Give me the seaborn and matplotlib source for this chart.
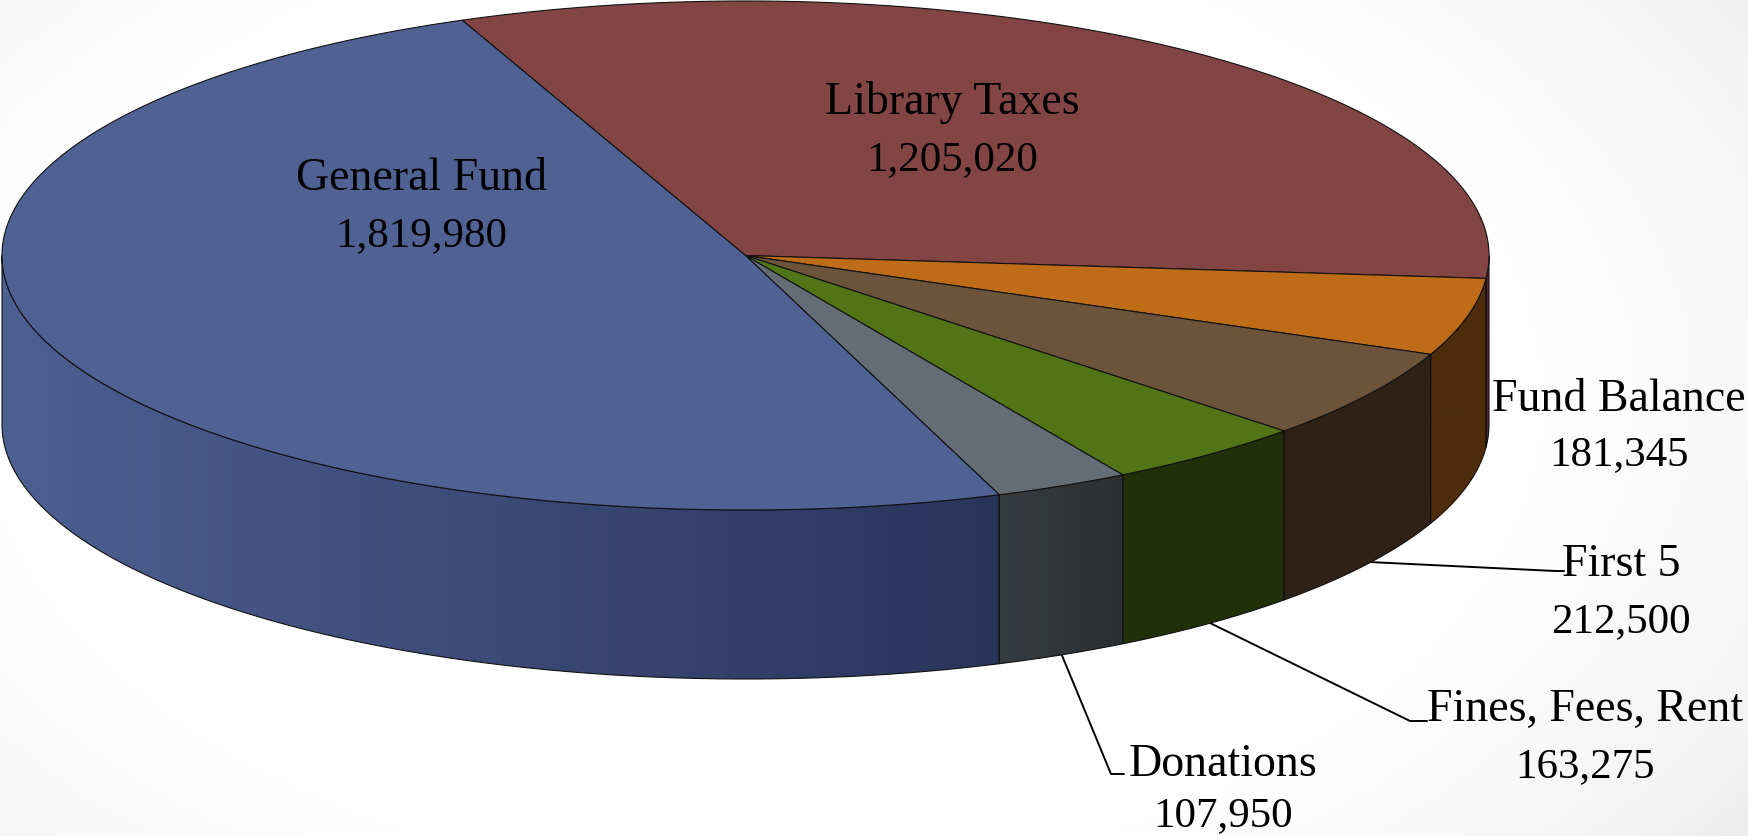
import numpy as np
import matplotlib
matplotlib.use("Agg")
import matplotlib.pyplot as plt
from matplotlib.path import Path
from matplotlib.patches import PathPatch
import seaborn as sns

categories = ["Library Taxes", "Fund Balance", "First 5", "Fines, Fees, Rent", "Donations", "General Fund"]
values = [1205020, 181345, 212500, 163275, 107950, 1819980]
top_colors = ["#834444", "#BE6C18", "#6C533C", "#517417", "#626D75", "#506294"]
side_left = ["#4F2A2A", "#4F2D0A", "#2F2116", "#213008", "#373C40", "#4D6092"]
side_right = ["#4F2A2A", "#4F2D0A", "#2F2116", "#213008", "#2B2F32", "#29345A"]

W, H = 1748, 837
CX, CY, RX, RY = 745.5, 256.5, 743.5, 254.5
DEPTH = 169
START = 112.4

sns.set_theme(style="white")
plt.rcParams["font.family"] = ["Liberation Serif", "DejaVu Serif"]

fig = plt.figure(figsize=(W / 100, H / 100), dpi=100)
ax = fig.add_axes([0, 0, 1, 1])
ax.set_xlim(0, W)
ax.set_ylim(H, 0)
ax.axis("off")

# soft radial backdrop
xx, yy = np.meshgrid(np.linspace(0, W, 300), np.linspace(0, H, 150))
r = np.hypot((xx - 760) / 1000, (yy - 400) / 620)
bg_cmap = sns.blend_palette(["#FFFFFF", "#FFFFFF", "#F4F4F4", "#DADADA"], as_cmap=True)
ax.imshow(r, extent=[0, W, H, 0], cmap=bg_cmap, vmin=0.45, vmax=1.45, aspect="auto", zorder=0)


def rim(t):
    t = np.radians(t)
    return CX + RX * np.cos(t), CY - RY * np.sin(t)


total = sum(values)
sweeps = [v / total * 360 for v in values]
edges = START - np.concatenate([[0], np.cumsum(sweeps)])

# side wall, only the front half of the disc shows
for i in range(len(values)):
    a0 = min(edges[i], 0.0)
    a1 = max(edges[i + 1], -180.0)
    if a0 <= a1:
        continue
    ts = np.linspace(a0, a1, 200)
    x, y = rim(ts)
    verts = np.concatenate([np.c_[x, y], np.c_[x[::-1], y[::-1] + DEPTH], [[x[0], y[0]]]])
    patch = PathPatch(Path(verts), facecolor="none", edgecolor="#111111", lw=0.8, zorder=2)
    ax.add_patch(patch)
    cmap = sns.blend_palette([side_left[i], side_right[i]], as_cmap=True)
    grad = np.linspace(0, 1, 256).reshape(1, -1)
    img = ax.imshow(grad, extent=[x.min(), x.max(), y.max() + DEPTH, y.min()],
                    cmap=cmap, vmin=0, vmax=1, aspect="auto", zorder=1.5)
    img.set_clip_path(patch)

# top face
for i, color in enumerate(top_colors):
    x, y = rim(np.linspace(edges[i], edges[i + 1], 300))
    verts = np.concatenate([[[CX, CY]], np.c_[x, y], [[CX, CY]]])
    ax.add_patch(PathPatch(Path(verts), facecolor=color, edgecolor="#111111", lw=0.8, zorder=3))

# leader lines for the outside labels
leaders = {
    "First 5": ([1369, 1555, 1564], [563, 572, 572]),
    "Fines, Fees, Rent": ([1210, 1410, 1427], [624, 722, 722]),
    "Donations": ([1061, 1111, 1124], [654, 775, 775]),
}
for lx, ly in leaders.values():
    ax.plot(lx, ly, color="black", lw=1.4, zorder=1)

label_pos = {
    "General Fund": (421, 179, 236),
    "Library Taxes": (952, 102, 160),
    "Fund Balance": (1619, 400, 455),
    "First 5": (1621, 565, 622),
    "Fines, Fees, Rent": (1585, 710, 767),
    "Donations": (1223, 765, 816),
}
for name, val in zip(categories, values):
    lx, y1, y2 = label_pos[name]
    ax.text(lx, y1, name, ha="center", va="center", fontsize=33, color="black", zorder=4)
    ax.text(lx, y2, f"{val:,}", ha="center", va="center", fontsize=31, color="black", zorder=4)

fig.savefig("out.png", dpi=100)
